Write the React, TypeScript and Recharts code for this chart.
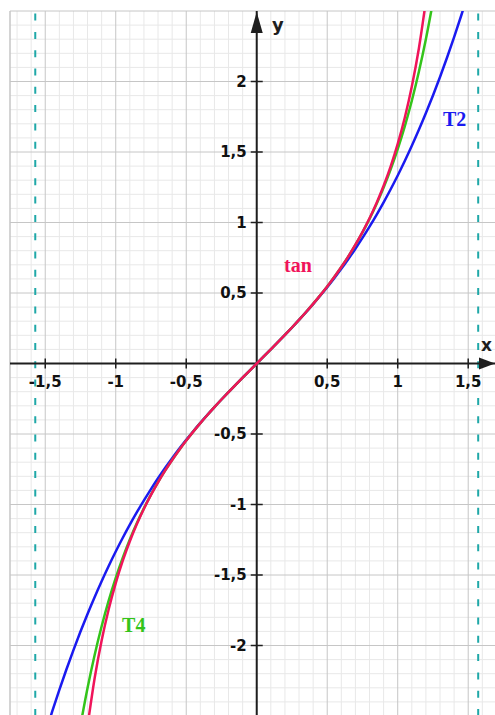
import React from 'react';
import { LineChart, Line, XAxis, YAxis, ReferenceLine, ReferenceDot } from 'recharts';

// sample points, step 0.05
const xs = [
  -1.5, -1.45, -1.4, -1.35, -1.3, -1.25, -1.2, -1.15, -1.1, -1.05,
  -1, -0.95, -0.9, -0.85, -0.8, -0.75, -0.7, -0.65, -0.6, -0.55,
  -0.5, -0.45, -0.4, -0.35, -0.3, -0.25, -0.2, -0.15, -0.1, -0.05,
  0,
  0.05, 0.1, 0.15, 0.2, 0.25, 0.3, 0.35, 0.4, 0.45, 0.5,
  0.55, 0.6, 0.65, 0.7, 0.75, 0.8, 0.85, 0.9, 0.95, 1,
  1.05, 1.1, 1.15, 1.2, 1.25, 1.3, 1.35, 1.4, 1.45, 1.5,
];

const tanY = [
  null, null, null, null, null, null, -2.5722, -2.2345, -1.9648, -1.7433,
  -1.5574, -1.3984, -1.2602, -1.1383, -1.0296, -0.9316, -0.8423, -0.7602, -0.6841, -0.6131,
  -0.5463, -0.4831, -0.4228, -0.365, -0.3093, -0.2553, -0.2027, -0.1511, -0.1003, -0.05,
  0,
  0.05, 0.1003, 0.1511, 0.2027, 0.2553, 0.3093, 0.365, 0.4228, 0.4831, 0.5463,
  0.6131, 0.6841, 0.7602, 0.8423, 0.9316, 1.0296, 1.1383, 1.2602, 1.3984, 1.5574,
  1.7433, 1.9648, 2.2345, 2.5722, null, null, null, null, null, null,
];

const t2Y = [
  -2.625, -2.4662, -2.3147, -2.1701, -2.0323, -1.901, -1.776, -1.657, -1.5437, -1.4359,
  -1.3333, -1.2358, -1.143, -1.0547, -0.9707, -0.8906, -0.8143, -0.7415, -0.672, -0.6055,
  -0.5417, -0.4804, -0.4213, -0.3643, -0.309, -0.2552, -0.2027, -0.1511, -0.1003, -0.05,
  0,
  0.05, 0.1003, 0.1511, 0.2027, 0.2552, 0.309, 0.3643, 0.4213, 0.4804, 0.5417,
  0.6055, 0.672, 0.7415, 0.8143, 0.8906, 0.9707, 1.0547, 1.143, 1.2358, 1.3333,
  1.4359, 1.5437, 1.657, 1.776, 1.901, 2.0323, 2.1701, 2.3147, 2.4662, 2.625,
];

const t4Y = [
  null, null, null, null, null, -2.5653, -2.3012, -2.0687, -1.8636, -1.682,
  -1.5206, -1.3767, -1.2475, -1.1312, -1.0257, -0.9295, -0.8412, -0.7597, -0.6839, -0.613,
  -0.5463, -0.483, -0.4228, -0.365, -0.3093, -0.2553, -0.2027, -0.1511, -0.1003, -0.05,
  0,
  0.05, 0.1003, 0.1511, 0.2027, 0.2553, 0.3093, 0.365, 0.4228, 0.483, 0.5463,
  0.613, 0.6839, 0.7597, 0.8412, 0.9295, 1.0257, 1.1312, 1.2475, 1.3767, 1.5206,
  1.682, 1.8636, 2.0687, 2.3012, 2.5653, null, null, null, null, null,
];

const xTicks = [-1.5, -1, -0.5, 0.5, 1, 1.5];
const yTicks = [-2, -1.5, -1, -0.5, 0.5, 1, 1.5, 2];
const xMajor = [-1.5, -1, -0.5, 0, 0.5, 1, 1.5];
const yMajor = [-2, -1.5, -1, -0.5, 0, 0.5, 1, 1.5, 2, 2.5];
const asymptotes = [-1.5708, 1.5708];

const rows = xs.map((x, i) => ({ x, tan: tanY[i], t2: t2Y[i], t4: t4Y[i] }));

// minor grid every 0.1, skipping the major lines
const tenths = (from: number, to: number) => {
  const out: number[] = [];
  for (let k = from; k <= to; k++) if (k % 5 !== 0) out.push(k / 10);
  return out;
};
const xMinor = tenths(-17, 16);
const yMinor = tenths(-24, 24);

const MINOR = '#e8e8e8';
const MAJOR = '#c6c6c6';
const AXIS = '#1e1e1e';
const TEAL = '#1fa8a8';
const RED = '#f0145a';
const BLUE = '#1a1af0';
const GREEN = '#33c41a';

const sans = '"DejaVu Sans", Verdana, sans-serif';
const serif = '"Liberation Serif", "Times New Roman", serif';

const fmt = (v: number) => String(v).replace('.', ',');

const XTick = (p: any, v: number) => (
  <g>
    <line x1={p.cx} y1={p.cy - 5} x2={p.cx} y2={p.cy + 5} stroke={AXIS} strokeWidth={1.5} />
    <text x={p.cx} y={p.cy + 23} textAnchor="middle" fontFamily={sans} fontWeight="bold" fontSize={15} fill="#111">
      {fmt(v)}
    </text>
  </g>
);

const YTick = (p: any, v: number) => (
  <g>
    <line x1={p.cx - 6} y1={p.cy} x2={p.cx + 6} y2={p.cy} stroke={AXIS} strokeWidth={1.5} />
    <text x={p.cx - 10} y={p.cy} dy="0.36em" textAnchor="end" fontFamily={sans} fontWeight="bold" fontSize={15} fill="#111">
      {fmt(v)}
    </text>
  </g>
);

const caption = (text: string, color: string, family: string, size: number, anchor = 'start') => (p: any) => (
  <text x={p.cx} y={p.cy} textAnchor={anchor} fontFamily={family} fontWeight="bold" fontSize={size} fill={color}>
    {text}
  </text>
);

const arrowRight = (p: any) => (
  <polygon points={`${p.cx},${p.cy} ${p.cx - 16},${p.cy - 6} ${p.cx - 16},${p.cy + 6}`} fill={AXIS} />
);

const arrowUp = (p: any) => (
  <polygon points={`${p.cx},${p.cy} ${p.cx - 6},${p.cy + 21} ${p.cx + 6},${p.cy + 21}`} fill={AXIS} />
);

export default function App() {
  return (
    <div style={{ position: 'absolute', left: 0, top: 0, width: 495, height: 715, overflow: 'hidden', background: '#fff' }}>
      <LineChart width={495} height={716} data={rows} margin={{ top: 11, right: 0, bottom: 0, left: 10 }}>
        <XAxis dataKey="x" type="number" domain={[-1.75, 1.69]} allowDataOverflow hide />
        <YAxis type="number" domain={[-2.5, 2.5]} allowDataOverflow hide />

        {xMinor.map((v) => (
          <ReferenceLine key={'xm' + v} x={v} stroke={MINOR} strokeWidth={1} />
        ))}
        {yMinor.map((v) => (
          <ReferenceLine key={'ym' + v} y={v} stroke={MINOR} strokeWidth={1} />
        ))}
        {xMajor.map((v) => (
          <ReferenceLine key={'xM' + v} x={v} stroke={MAJOR} strokeWidth={1} />
        ))}
        {yMajor.map((v) => (
          <ReferenceLine key={'yM' + v} y={v} stroke={MAJOR} strokeWidth={1} />
        ))}
        <ReferenceLine x={-1.75} stroke={MAJOR} strokeWidth={1.5} />

        {asymptotes.map((v) => (
          <ReferenceLine key={'as' + v} x={v} stroke={TEAL} strokeWidth={2} strokeDasharray="7 11.3" />
        ))}

        <ReferenceLine y={0} stroke={AXIS} strokeWidth={2} />
        <ReferenceLine x={0} stroke={AXIS} strokeWidth={2} />
        {xTicks.map((v) => (
          <ReferenceDot key={'xt' + v} x={v} y={0} r={1} shape={(p: any) => XTick(p, v)} />
        ))}
        {yTicks.map((v) => (
          <ReferenceDot key={'yt' + v} x={0} y={v} r={1} shape={(p: any) => YTick(p, v)} />
        ))}
        <ReferenceDot x={1.69} y={0} r={1} shape={arrowRight} />
        <ReferenceDot x={0} y={2.493} r={1} shape={arrowUp} />

        <Line type="monotone" dataKey="t2" stroke={BLUE} strokeWidth={2.5} dot={false} isAnimationActive={false} />
        <Line type="monotone" dataKey="t4" stroke={GREEN} strokeWidth={2.5} dot={false} isAnimationActive={false} />
        <Line type="monotone" dataKey="tan" stroke={RED} strokeWidth={2.5} dot={false} isAnimationActive={false} />

        <ReferenceDot x={1.63} y={0.09} r={1} shape={caption('x', AXIS, sans, 17, 'middle')} />
        <ReferenceDot x={0.109} y={2.36} r={1} shape={caption('y', AXIS, sans, 18)} />
        <ReferenceDot x={0.194} y={0.649} r={1} shape={caption('tan', RED, serif, 20)} />
        <ReferenceDot x={1.321} y={1.684} r={1} shape={caption('T2', BLUE, serif, 20)} />
        <ReferenceDot x={-0.955} y={-1.904} r={1} shape={caption('T4', GREEN, serif, 20)} />
      </LineChart>
    </div>
  );
}
